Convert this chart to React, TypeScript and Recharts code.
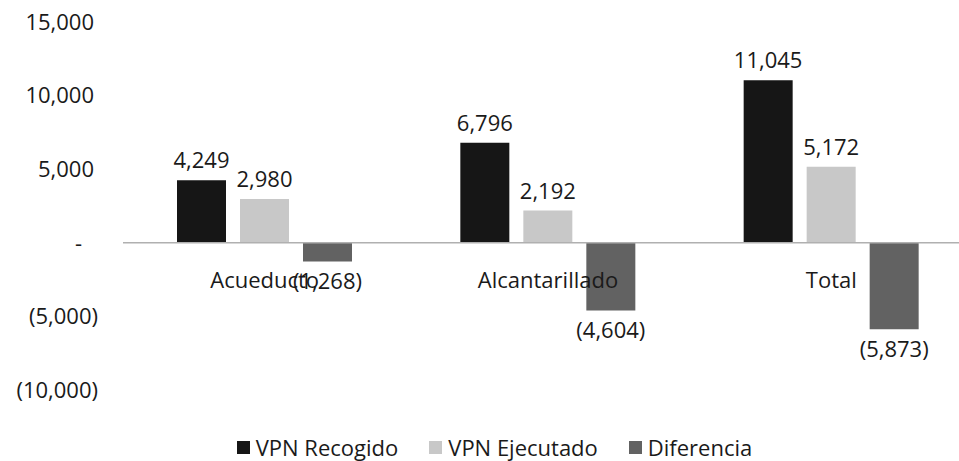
import { BarChart, Bar, XAxis, YAxis, ReferenceLine, LabelList, Legend } from "recharts";

const categories = ["Acueducto", "Alcantarillado", "Total"];
const vpnRecogido = [4249, 6796, 11045];
const vpnEjecutado = [2980, 2192, 5172];
const diferencia = [-1268, -4604, -5873];
const yTicks = [-10000, -5000, 0, 5000, 10000, 15000];

const series = [
  { key: "recogido", name: "VPN Recogido", color: "#161616" },
  { key: "ejecutado", name: "VPN Ejecutado", color: "#c8c8c8" },
  { key: "diferencia", name: "Diferencia", color: "#626262" },
];

const data = categories.map((c, i) => ({
  name: c,
  recogido: vpnRecogido[i],
  ejecutado: vpnEjecutado[i],
  diferencia: diferencia[i],
}));

const W = 975;
const H = 461;
const TOP = 22;
const PLOT_H = 368;
const Y_MIN = -10000;
const Y_MAX = 15000;
const zeroY = TOP + (PLOT_H * Y_MAX) / (Y_MAX - Y_MIN);
const FONT = "'Open Sans', sans-serif";

function fmt(v: number) {
  if (v === 0) return "-";
  const s = Math.abs(v).toLocaleString("en-US");
  return v < 0 ? `(${s})` : s;
}

// accounting style: positives padded for ")", zero shown as a dash
function YTick(props: any) {
  const { x, y, payload } = props;
  const v = payload.value as number;
  const endX = v === 0 ? x - 33 : v < 0 ? x - 17 : x - 21;
  return (
    <text x={endX} y={y} dy="0.35em" textAnchor="end" fontSize={22} fontFamily={FONT} fill="#1a1a1a">
      {fmt(v)}
    </text>
  );
}

function XTick(props: any) {
  const { x, payload } = props;
  return (
    <text x={x} y={zeroY + 37} dy="0.35em" textAnchor="middle" fontSize={22} fontFamily={FONT} fill="#1a1a1a">
      {payload.value}
    </text>
  );
}

function LegendBox() {
  return (
    <div
      style={{
        display: "flex",
        justifyContent: "center",
        alignItems: "center",
        gap: 31,
        fontFamily: FONT,
        fontSize: 22,
        color: "#1a1a1a",
        paddingLeft: 16,
        height: 28,
      }}
    >
      {series.map((s) => (
        <div key={s.key} style={{ display: "flex", alignItems: "center", gap: 6 }}>
          <span style={{ display: "inline-block", width: 13, height: 13, background: s.color }} />
          <span>{s.name}</span>
        </div>
      ))}
    </div>
  );
}

export default function App() {
  return (
    <div
      style={{
        position: "fixed",
        left: 0,
        top: 0,
        width: 959,
        height: 461,
        overflow: "hidden",
        background: "#fff",
      }}
    >
      <BarChart
        width={W}
        height={H}
        data={data}
        margin={{ top: TOP, right: 2, left: 0, bottom: 0 }}
        barSize={49}
        barGap={14}
      >
        <YAxis
          width={123}
          domain={[Y_MIN, Y_MAX]}
          ticks={yTicks}
          axisLine={false}
          tickLine={false}
          tick={<YTick />}
          interval={0}
        />
        <XAxis
          dataKey="name"
          height={43}
          axisLine={false}
          tickLine={false}
          tick={<XTick />}
          interval={0}
        />
        <ReferenceLine y={0} stroke="#b0b0b0" strokeWidth={1.5} />
        {series.map((s) => (
          <Bar key={s.key} dataKey={s.key} name={s.name} fill={s.color} isAnimationActive={false}>
            <LabelList
              dataKey={s.key}
              position="top"
              offset={12}
              formatter={(v: any) => fmt(Number(v))}
              style={{ fontSize: 22, fontFamily: FONT, fill: "#1a1a1a" }}
            />
          </Bar>
        ))}
        <Legend verticalAlign="bottom" height={28} content={() => <LegendBox />} />
      </BarChart>
    </div>
  );
}
